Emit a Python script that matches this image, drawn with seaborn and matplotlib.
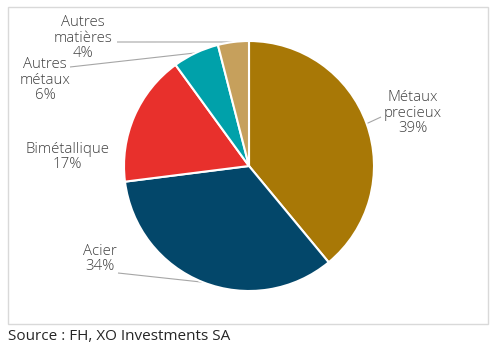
import matplotlib
matplotlib.use("Agg")
import matplotlib.pyplot as plt
import seaborn as sns
import numpy as np
from matplotlib.patches import Rectangle

categories = ["Métaux\nprecieux", "Acier", "Bimétallique", "Autres\nmétaux", "Autres\nmatières"]
values = [39, 34, 17, 6, 4]
colors = ["#A87806", "#03476A", "#E8302C", "#00A1AA", "#C6A05C"]

sns.set_theme(style="white")
plt.rcParams['font.family'] = ['Open Sans', 'DejaVu Sans']

W, H = 494, 349
fig = plt.figure(figsize=(W / 100, H / 100), dpi=100)
ax = fig.add_axes([0, 0, 1, 1])

cx, cy, R = 249, 166, 125

def px(x):
    return (x - cx) / R

def py(y):
    return (cy - y) / R

palette = sns.color_palette(colors)
wedges, _ = ax.pie(values, colors=palette, startangle=90, counterclock=False,
                   radius=1.0, wedgeprops=dict(edgecolor="white", linewidth=1.5))
ax.set_xlim(px(0), px(W))
ax.set_ylim(py(H), py(0))
ax.set_aspect('auto')
ax.axis('off')

# label positions (pixels) and whether a leader line is drawn
label_pos = [(413, 113), (100, 259), (67, 157), (45, 80), (83, 38)]
leader_start = [(381, 117), (118, 273), None, (70, 67), (117, 42)]

txtcol = "#404040"
for w, cat, v, (lx, ly), ls in zip(wedges, categories, values, label_pos, leader_start):
    ax.text(px(lx), py(ly), f"{cat}\n{v}%", ha="center", va="center",
            fontsize=10.8, color=txtcol, linespacing=1.08, fontweight="light")
    if ls is not None:
        mid = np.deg2rad((w.theta1 + w.theta2) / 2)
        ex, ey = np.cos(mid), np.sin(mid)
        ax.plot([px(ls[0]), ex], [py(ls[1]), ey], color="#A6A6A6", lw=0.8,
                solid_capstyle="butt", zorder=0.5)

fig.patches.append(Rectangle((8 / W, 1 - 324 / H), 480 / W, 317 / H,
                             transform=fig.transFigure, fill=False,
                             edgecolor="#D9D9D9", lw=1))
fig.text(8 / W, 1 - 337 / H, "Source : FH, XO Investments SA", ha="left", va="center",
         fontsize=11, color="#262626")

fig.savefig("out.png", dpi=100)
